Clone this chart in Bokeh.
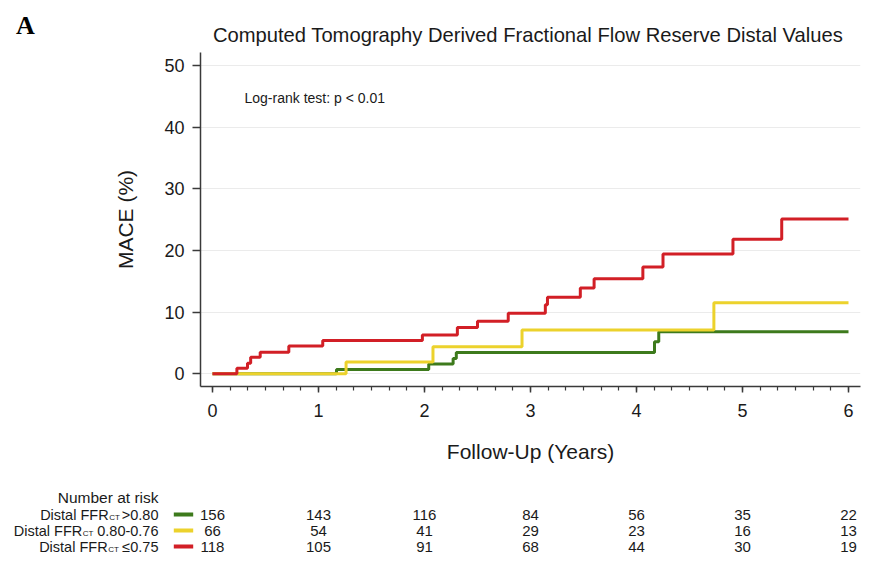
from bokeh.plotting import figure
from bokeh.models import Range1d, FixedTicker, Label
from bokeh.embed import file_html
from bokeh.resources import INLINE
from bokeh.core.properties import value

# ---------------- data ----------------
green_t = [0, 1.17, 2.04, 2.27, 2.30, 4.17, 4.21, 6.0]
green_v = [0, 0.7, 1.6, 2.5, 3.45, 5.2, 6.8, 6.8]

yellow_t = [0, 1.26, 2.08, 2.92, 4.73, 6.0]
yellow_v = [0, 1.9, 4.4, 7.1, 11.5, 11.5]

red_t = [0, 0.23, 0.33, 0.36, 0.45, 0.72, 1.04, 1.98, 2.31, 2.50, 2.79,
         3.14, 3.16, 3.47, 3.60, 4.06, 4.25, 4.91, 5.37, 6.0]
red_v = [0, 0.9, 1.7, 2.7, 3.5, 4.5, 5.4, 6.3, 7.5, 8.5, 9.8,
         11.2, 12.4, 13.9, 15.4, 17.3, 19.4, 21.8, 25.1, 25.1]

risk_years = [0, 1, 2, 3, 4, 5, 6]
risk_green = [156, 143, 116, 84, 56, 35, 22]
risk_yellow = [66, 54, 41, 29, 23, 16, 13]
risk_red = [118, 105, 91, 68, 44, 30, 19]

group_main = ["Distal FFR", "Distal FFR", "Distal FFR"]
group_sub = ["CT", "CT", "CT"]
group_suffix = [">0.80", "0.80-0.76", "\u22640.75"]

x_ticks = [0, 1, 2, 3, 4, 5, 6]
y_ticks = [0, 10, 20, 30, 40, 50]

title_text = "Computed Tomography Derived Fractional Flow Reserve Distal Values"
panel_letter = "A"
test_text = "Log-rank test: p < 0.01"

# ---------------- layout helpers (page pixels -> data) ----------------
FONT = "Liberation Sans"
INK = "#1a1a1a"
GREEN, YELLOW, RED = "#3d7a1c", "#ecd22c", "#d21f26"
W = 882
X0PX, PXY = 212.0, 106.0      # page px of year 0, px per year
Y0PX, PXP = 373.3, 6.17       # page px of 0 %, px per percent
HEAD_H, MAIN_BOTTOM, TABLE_H = 52, 472, 98


def yr(px):
    return (px - X0PX) / PXY


def pct(py):
    return (Y0PX - py) / PXP


# ---------------- header (panel letter + title) ----------------
h = figure(width=W, height=HEAD_H, output_backend="svg", toolbar_location=None,
           x_range=Range1d(yr(0), yr(W)), y_range=Range1d(pct(HEAD_H), pct(0)),
           x_axis_type=None, y_axis_type=None, min_border=0)
h.outline_line_color = None
h.grid.visible = False
h.text(x=[yr(25)], y=[pct(24.5)], text=[panel_letter],
       text_font=value("Liberation Serif"), text_font_style="bold",
       text_font_size=value("26px"), text_align="center",
       text_baseline="middle", text_color="#000000")
h.text(x=[yr(527.5)], y=[pct(34.5)], text=[title_text], text_font=value(FONT),
       text_font_size=value("20.2px"), text_align="center",
       text_baseline="middle", text_color=INK)

# ---------------- main plot ----------------
p = figure(width=W, height=MAIN_BOTTOM - HEAD_H, output_backend="svg",
           toolbar_location=None,
           x_range=Range1d(yr(200), yr(860)), y_range=Range1d(pct(386), pct(52)),
           min_border_left=200, min_border_right=W - 860, min_border_top=0,
           min_border_bottom=MAIN_BOTTOM - 386)
p.outline_line_color = None

xt = FixedTicker(ticks=x_ticks, minor_ticks=[i / 6 for i in range(0, 37)])
yt = FixedTicker(ticks=y_ticks, minor_ticks=[])
p.xaxis.ticker = xt
p.yaxis.ticker = yt
p.xgrid.visible = False
p.ygrid.ticker = yt
p.ygrid.grid_line_color = "#ebebeb"
p.ygrid.grid_line_width = 1

for ax in (p.xaxis[0], p.yaxis[0]):
    ax.axis_line_color = "#3a3a3a"
    ax.axis_line_width = 1.5
    ax.major_tick_line_color = "#3a3a3a"
    ax.major_tick_line_width = 1.5
    ax.minor_tick_line_color = "#3a3a3a"
    ax.minor_tick_line_width = 1.2
    ax.major_tick_in = 0
    ax.minor_tick_in = 0
    ax.major_label_text_font = FONT
    ax.major_label_text_font_size = "18px"
    ax.major_label_text_color = INK
    ax.axis_label_text_font = FONT
    ax.axis_label_text_font_size = "21px"
    ax.axis_label_text_font_style = "normal"
    ax.axis_label_text_color = INK

p.xaxis.axis_label = "Follow-Up (Years)"
p.xaxis.major_tick_out = 6
p.xaxis.minor_tick_out = 4
p.xaxis.major_label_standoff = 11
p.xaxis.axis_label_standoff = 20

p.yaxis.axis_label = "MACE (%)"
p.yaxis.major_tick_out = 8
p.yaxis.minor_tick_out = 0
p.yaxis.major_label_standoff = 8
p.yaxis.axis_label_standoff = 24

p.step(green_t, green_v, mode="after", line_color=GREEN, line_width=3)
p.step(yellow_t, yellow_v, mode="after", line_color=YELLOW, line_width=3)
p.step(red_t, red_v, mode="after", line_color=RED, line_width=3)

p.add_layout(Label(x=yr(244), y=pct(97), text=test_text, text_font=FONT,
                   text_font_size="14px", text_align="left",
                   text_baseline="middle", text_color=INK))

# ---------------- number-at-risk table ----------------
ROW0, ROWH = 514.0, 16.0


def row(py):
    return (py - ROW0) / ROWH


t = figure(width=W, height=TABLE_H, output_backend="svg", toolbar_location=None,
           x_range=Range1d(yr(0), yr(W)),
           y_range=Range1d(row(MAIN_BOTTOM + TABLE_H), row(MAIN_BOTTOM)),
           x_axis_type=None, y_axis_type=None, min_border=0)
t.outline_line_color = None
t.grid.visible = False

tf = value(FONT)
t.text(x=[yr(158)], y=[row(496.5)], text=["Number at risk"], text_font=tf,
       text_font_size=value("15.5px"), text_align="right", text_baseline="middle",
       text_color=INK)

lab_fs = value("14.5px")
rows_idx = [0, 1, 2]
sub_right = [yr(119.3), yr(93.0), yr(118.3)]
main_right = [yr(108.1), yr(81.8), yr(107.1)]
suffix_right = [yr(158)] * 3
t.text(x=main_right, y=rows_idx, text=group_main, text_font=tf, text_font_size=lab_fs,
       text_align="right", text_baseline="middle", text_color=INK)
t.text(x=sub_right, y=[r + 2.5 / ROWH for r in rows_idx], text=group_sub, text_font=tf,
       text_font_size=value("8px"), text_align="right", text_baseline="middle",
       text_color=INK)
t.text(x=suffix_right, y=rows_idx, text=group_suffix, text_font=tf,
       text_font_size=lab_fs, text_align="right", text_baseline="middle",
       text_color=INK)

colors = [GREEN, YELLOW, RED]
t.segment(x0=[yr(173.3)] * 3, x1=[yr(192.7)] * 3, y0=rows_idx, y1=rows_idx,
          line_color=colors, line_width=4)

for i, counts in enumerate([risk_green, risk_yellow, risk_red]):
    t.text(x=risk_years, y=[i] * len(risk_years), text=[str(c) for c in counts],
           text_font=tf, text_font_size=value("15px"), text_align="center",
           text_baseline="middle", text_color=INK)

open("out.html", "w").write(file_html([h, p, t], INLINE))
